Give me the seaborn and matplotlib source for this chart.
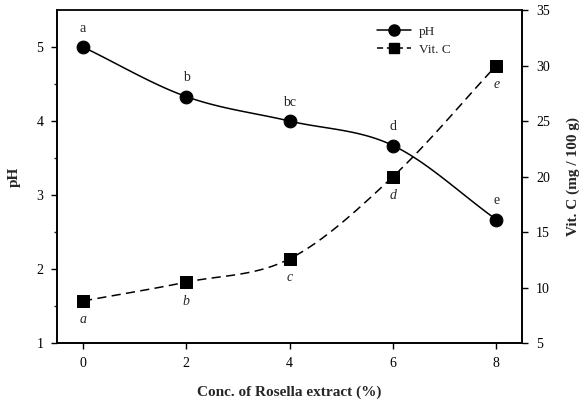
import numpy as np
import pandas as pd
import seaborn as sns
import matplotlib
matplotlib.use("Agg")
import matplotlib.pyplot as plt
from matplotlib.lines import Line2D

conc = [0, 2, 4, 6, 8]
ph = [5.0, 4.33, 4.0, 3.67, 2.67]
vitc = [8.8, 10.5, 12.6, 20.0, 30.0]
ph_letters = ["a", "b", "bc", "d", "e"]
vitc_letters = ["a", "b", "c", "d", "e"]

sns.set_theme(style="ticks")
plt.rcParams["font.family"] = ["Liberation Serif", "DejaVu Serif"]

def smooth(x, y, n=30):
    # Catmull-Rom curve through the data points (rendering only)
    x = np.asarray(x, float); y = np.asarray(y, float)
    P = np.column_stack([x, y])
    P = np.vstack([2 * P[0] - P[1], P, 2 * P[-1] - P[-2]])
    out = []
    t = np.linspace(0, 1, n)[:, None]
    for i in range(1, len(P) - 2):
        p0, p1, p2, p3 = P[i - 1], P[i], P[i + 1], P[i + 2]
        seg = 0.5 * ((2 * p1) + (-p0 + p2) * t + (2 * p0 - 5 * p1 + 4 * p2 - p3) * t ** 2
                     + (-p0 + 3 * p1 - 3 * p2 + p3) * t ** 3)
        out.append(seg)
    s = np.vstack(out)
    return s[:, 0], s[:, 1]

fig, ax = plt.subplots(figsize=(5.84, 4.0), dpi=100)
fig.subplots_adjust(left=0.098, right=0.894, top=0.975, bottom=0.142)
ax2 = ax.twinx()

df = pd.DataFrame({"conc": conc, "ph": ph, "vitc": vitc})

sx, sy = smooth(conc, ph)
ax.plot(sx, sy, color="black", lw=1.1)
sns.scatterplot(data=df, x="conc", y="ph", ax=ax, marker="o", s=85, color="black",
                edgecolor="black", zorder=5, legend=False)

vx, vy = smooth(conc, vitc)
ax2.plot(vx, vy, color="black", lw=1.1, ls=(0, (6, 3.5)))
sns.scatterplot(data=df, x="conc", y="vitc", ax=ax2, marker="s", s=80, color="black",
                edgecolor="black", zorder=5, legend=False)

for x, y, t in zip(conc, ph, ph_letters):
    ax.annotate(t, (x, y), xytext=(0, 9), textcoords="offset points",
                ha="center", va="bottom", fontsize=10)
for x, y, t in zip(conc, vitc, vitc_letters):
    ax2.annotate(t, (x, y), xytext=(0, -9), textcoords="offset points",
                 ha="center", va="top", fontsize=10, style="italic")

ax.set_xlim(-0.5, 8.5)
ax.set_ylim(1, 5.5)
ax2.set_ylim(5, 35)
ax.set_xticks([0, 2, 4, 6, 8])
ax.set_yticks([1, 2, 3, 4, 5])
ax.set_yticks([1.5, 2.5, 3.5, 4.5], minor=True)
ax2.set_yticks([5, 10, 15, 20, 25, 30, 35])

ax.set_xlabel("Conc. of Rosella extract (%)", fontsize=11, fontweight="bold", labelpad=11)
ax.set_ylabel("pH", fontsize=11, fontweight="bold", labelpad=11)
ax2.set_ylabel("Vit. C (mg / 100 g)", fontsize=11, fontweight="bold", labelpad=12)

for a in (ax, ax2):
    a.tick_params(axis="both", which="major", labelsize=10, length=4, width=1, colors="black", pad=6)
    a.tick_params(axis="both", which="minor", length=2.5, width=1)
    for sp in a.spines.values():
        sp.set_visible(True)
        sp.set_color("black")
        sp.set_linewidth(1.2)
ax.spines["top"].set_color("#888888")

handles = [
    Line2D([0], [0], color="black", lw=1.1, marker="o", markersize=8, label="pH"),
    Line2D([0], [0], color="black", lw=1.1, ls=(0, (4, 2.5)), marker="s", markersize=7.5, label="Vit. C"),
]
ax2.legend(handles=handles, loc="upper left", bbox_to_anchor=(0.665, 0.985), frameon=False,
           fontsize=9.5, handlelength=2.6, labelspacing=0.45, borderpad=0.3, handletextpad=0.6)

fig.savefig("out.png", dpi=100)
